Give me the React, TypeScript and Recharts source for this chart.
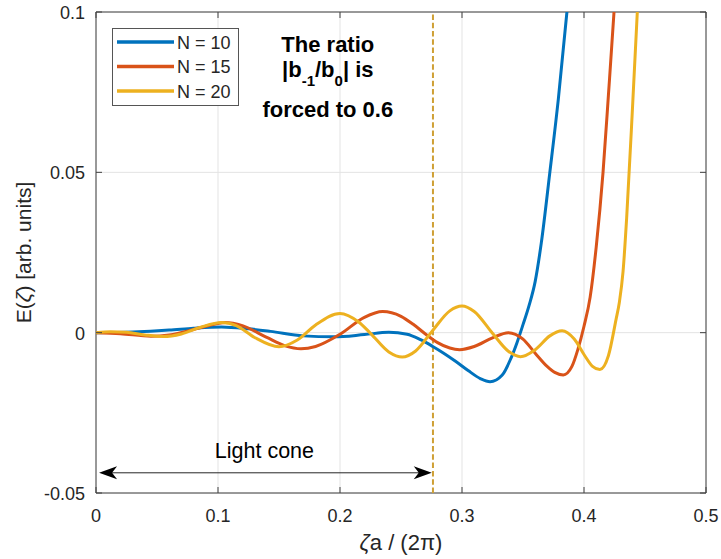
import React from 'react';
import {
  LineChart,
  Line,
  XAxis,
  YAxis,
  CartesianGrid,
  ReferenceLine,
  ReferenceDot,
  ReferenceArea,
  Legend,
} from 'recharts';

// ---- data ----
const seriesNames = ['N = 10', 'N = 15', 'N = 20'];
const seriesColors = ['#0072BD', '#D95319', '#EDB120'];

const xN10 = [0, 0.03, 0.06, 0.08, 0.103, 0.125, 0.143, 0.17, 0.195, 0.22, 0.24, 0.255, 0.266, 0.276, 0.285, 0.295, 0.305, 0.315, 0.323, 0.333, 0.34, 0.345, 0.35, 0.355, 0.36, 0.365, 0.372, 0.379, 0.386, 0.393, 0.4];
const yN10 = [0, 0.0002, 0.0008, 0.0014, 0.0018, 0.0012, 0.0004, -0.001, -0.0013, -0.0006, 0.0001, -0.0005, -0.0022, -0.0043, -0.0064, -0.009, -0.0118, -0.0143, -0.0153, -0.0132, -0.0081, -0.0032, 0.0025, 0.0085, 0.016, 0.028, 0.05, 0.073, 0.1, 0.13, 0.165];

const xN15 = [0, 0.02, 0.045, 0.06, 0.08, 0.09, 0.106, 0.12, 0.14, 0.155, 0.168, 0.18, 0.2, 0.22, 0.235, 0.25, 0.26, 0.27, 0.28, 0.29, 0.298, 0.31, 0.325, 0.338, 0.35, 0.36, 0.37, 0.376, 0.383, 0.39, 0.395, 0.4, 0.405, 0.41, 0.4156, 0.42, 0.4246, 0.43];
const yN15 = [0, -0.0003, -0.0011, -0.0007, 0.001, 0.002, 0.0032, 0.0022, -0.0015, -0.0041, -0.005, -0.0043, -0.0005, 0.0048, 0.0066, 0.0051, 0.0026, -0.0004, -0.0031, -0.0048, -0.0053, -0.0043, -0.0016, 0.0, -0.002, -0.0064, -0.0106, -0.0124, -0.0132, -0.0106, -0.0052, 0.002, 0.011, 0.0267, 0.05, 0.074, 0.1, 0.135];

const xN20 = [0, 0.012, 0.025, 0.04, 0.055, 0.07, 0.085, 0.103, 0.115, 0.13, 0.15, 0.165, 0.18, 0.2, 0.215, 0.225, 0.24, 0.251, 0.262, 0.276, 0.29, 0.3, 0.31, 0.325, 0.338, 0.348, 0.36, 0.372, 0.382, 0.392, 0.4, 0.407, 0.413, 0.42, 0.4262, 0.429, 0.432, 0.435, 0.44, 0.4437, 0.45];
const yN20 = [0, 0.0003, 0.0001, -0.0007, -0.0012, -0.0004, 0.0016, 0.0032, 0.0022, -0.0015, -0.0044, -0.0023, 0.0024, 0.006, 0.0034, -0.0002, -0.006, -0.0076, -0.0057, 0.0007, 0.0068, 0.0083, 0.0066, -0.0002, -0.0058, -0.0075, -0.0053, -0.001, 0.0006, -0.002, -0.0068, -0.0105, -0.0115, -0.0072, 0.004, 0.0095, 0.019, 0.036, 0.072, 0.1, 0.15];

const xTicks = [0, 0.1, 0.2, 0.3, 0.4, 0.5];
const yTicks = [-0.05, 0, 0.05, 0.1];
const xTickLabels = ['0', '0.1', '0.2', '0.3', '0.4', '0.5'];
const yTickLabels = ['-0.05', '0', '0.05', '0.1'];
const xDomain = [0, 0.5];
const yDomain = [-0.05, 0.1];

const lightConeX = 0.2762;
const arrowXs = [0.0025, 0.2752];
const arrowY = -0.0437;
const annotationPos = [0.19, 0.09];

// ---- layout ----
const W = 721;
const H = 559;
const PLOT_LEFT = 96;
const PLOT_TOP = 12;
const PLOT_BOTTOM = 493;
const FONT = "'Liberation Sans', Arial, Helvetica, sans-serif";
const TEXT = '#262626';
const AXIS = '#404040';

const toPoints = (xs: number[], ys: number[]) => xs.map((x, i) => ({ x, y: ys[i] }));
const series = [
  { name: seriesNames[0], color: seriesColors[0], data: toPoints(xN10, yN10) },
  { name: seriesNames[1], color: seriesColors[1], data: toPoints(xN15, yN15) },
  { name: seriesNames[2], color: seriesColors[2], data: toPoints(xN20, yN20) },
];

const XTick = (props: any) => {
  const { x, payload } = props;
  const idx = xTicks.indexOf(payload.value);
  const label = idx >= 0 ? xTickLabels[idx] : String(payload.value);
  return (
    <g>
      <line x1={x} x2={x} y1={PLOT_BOTTOM} y2={PLOT_BOTTOM - 6} stroke={AXIS} strokeWidth={1} />
      <line x1={x} x2={x} y1={PLOT_TOP} y2={PLOT_TOP + 6} stroke={AXIS} strokeWidth={1} />
      <text x={x} y={PLOT_BOTTOM + 29} textAnchor="middle" fontSize={18} fill={TEXT} fontFamily={FONT}>
        {label}
      </text>
    </g>
  );
};

const YTick = (props: any) => {
  const { y, payload } = props;
  const idx = yTicks.indexOf(payload.value);
  const label = idx >= 0 ? yTickLabels[idx] : String(payload.value);
  return (
    <g>
      <line x1={PLOT_LEFT} x2={PLOT_LEFT + 6} y1={y} y2={y} stroke={AXIS} strokeWidth={1} />
      <line x1={706} x2={700} y1={y} y2={y} stroke={AXIS} strokeWidth={1} />
      <text x={PLOT_LEFT - 11} y={y + 7} textAnchor="end" fontSize={18} fill={TEXT} fontFamily={FONT}>
        {label}
      </text>
    </g>
  );
};

const XAxisLabel = (props: any) => {
  const vb = props.viewBox || {};
  const cx = (vb.x ?? PLOT_LEFT) + (vb.width ?? 610) / 2;
  return (
    <text x={cx} y={550} textAnchor="middle" fontSize={22} fill={TEXT} fontFamily={FONT}>
      <tspan fontStyle="italic">ζ</tspan>
      <tspan>a / (2π)</tspan>
    </text>
  );
};

const YAxisLabel = (props: any) => {
  const vb = props.viewBox || {};
  const cy = (vb.y ?? PLOT_TOP) + (vb.height ?? 481) / 2;
  return (
    <text
      x={31}
      y={cy}
      transform={`rotate(-90, 31, ${cy})`}
      textAnchor="middle"
      fontSize={21}
      fill={TEXT}
      fontFamily={FONT}
    >
      <tspan>E(</tspan>
      <tspan fontStyle="italic">ζ</tspan>
      <tspan>) [arb. units]</tspan>
    </text>
  );
};

const Annotation = (props: any) => {
  const { cx, cy } = props;
  if (cx == null || cy == null) return null;
  return (
    <g fontFamily={FONT} fontWeight="bold" fill="#000" fontSize={22}>
      <text x={cx} y={cy + 8} textAnchor="middle">The ratio</text>
      <text x={cx} y={cy + 33} textAnchor="middle">
        <tspan>|b</tspan>
        <tspan fontSize={15} dy={9}>-1</tspan>
        <tspan dy={-9}>/b</tspan>
        <tspan fontSize={15} dy={9}>0</tspan>
        <tspan dy={-9}>| is</tspan>
      </text>
      <text x={cx} y={cy + 73} textAnchor="middle">forced to 0.6</text>
    </g>
  );
};

const ArrowShape = (props: any) => {
  const { x1, y1, x2 } = props;
  if (x1 == null) return null;
  const y = y1;
  const L = 18;
  const hw = 6.5;
  const notch = 13;
  const left = `${x1},${y} ${x1 + L},${y - hw} ${x1 + notch},${y} ${x1 + L},${y + hw}`;
  const right = `${x2},${y} ${x2 - L},${y - hw} ${x2 - notch},${y} ${x2 - L},${y + hw}`;
  return (
    <g>
      <line x1={x1 + 4} x2={x2 - 4} y1={y} y2={y} stroke="#262626" strokeWidth={1} />
      <polygon points={left} fill="#000" />
      <polygon points={right} fill="#000" />
      <text
        x={(x1 + x2) / 2 - 1}
        y={y - 15}
        textAnchor="middle"
        fontSize={21.5}
        fill="#000"
        fontFamily={FONT}
      >
        Light cone
      </text>
    </g>
  );
};

const LegendBox = () => (
  <svg width={128} height={79} style={{ display: 'block' }}>
    <rect x={0.5} y={0.5} width={126} height={77} fill="#fff" stroke="#555" strokeWidth={1} />
    {series.map((s, i) => (
      <g key={s.name}>
        <line x1={5} x2={62} y1={14 + i * 24.5} y2={14 + i * 24.5} stroke={s.color} strokeWidth={3.5} />
        <text x={65} y={14 + i * 24.5 + 6.5} fontSize={18} fill={TEXT} fontFamily={FONT}>
          {s.name}
        </text>
      </g>
    ))}
  </svg>
);

export default function App() {
  return (
    <div style={{ position: 'absolute', left: 0, top: 0, width: W, height: H, background: '#fff' }}>
      <LineChart
        width={W}
        height={H}
        margin={{ top: 12, right: 15, left: 36, bottom: 36 }}
        style={{ fontFamily: FONT }}
      >
        <CartesianGrid stroke="#e3e3e3" strokeWidth={1} />
        <XAxis
          type="number"
          dataKey="x"
          domain={xDomain}
          ticks={xTicks}
          interval={0}
          allowDataOverflow
          axisLine={false}
          tickLine={false}
          tickSize={0}
          height={30}
          tick={<XTick />}
          label={{ content: <XAxisLabel /> }}
        />
        <YAxis
          type="number"
          dataKey="y"
          domain={yDomain}
          ticks={yTicks}
          interval={0}
          allowDataOverflow
          axisLine={false}
          tickLine={false}
          tickSize={0}
          width={60}
          tick={<YTick />}
          label={{ content: <YAxisLabel /> }}
        />
        <ReferenceLine
          x={lightConeX}
          stroke="#CFA035"
          strokeWidth={2}
          strokeDasharray="5.5 2.8"
        />
        {series.map((s) => (
          <Line
            key={s.name}
            data={s.data}
            dataKey="y"
            name={s.name}
            type="monotone"
            stroke={s.color}
            strokeWidth={3}
            dot={false}
            activeDot={false}
            isAnimationActive={false}
          />
        ))}
        <ReferenceArea
          x1={xDomain[0]}
          x2={xDomain[1]}
          y1={yDomain[0]}
          y2={yDomain[1]}
          fill="none"
          fillOpacity={0}
          stroke={AXIS}
          strokeWidth={1}
        />
        <ReferenceLine
          segment={[
            { x: arrowXs[0], y: arrowY },
            { x: arrowXs[1], y: arrowY },
          ]}
          shape={(p: any) => <ArrowShape {...p} />}
        />
        <ReferenceDot
          x={annotationPos[0]}
          y={annotationPos[1]}
          r={1}
          ifOverflow="visible"
          shape={(p: any) => <Annotation {...p} />}
        />
        <Legend
          layout="vertical"
          align="center"
          verticalAlign="middle"
          wrapperStyle={{ position: 'absolute', left: 112, top: 28, width: 128, height: 79 }}
          content={() => <LegendBox />}
        />
      </LineChart>
    </div>
  );
}
